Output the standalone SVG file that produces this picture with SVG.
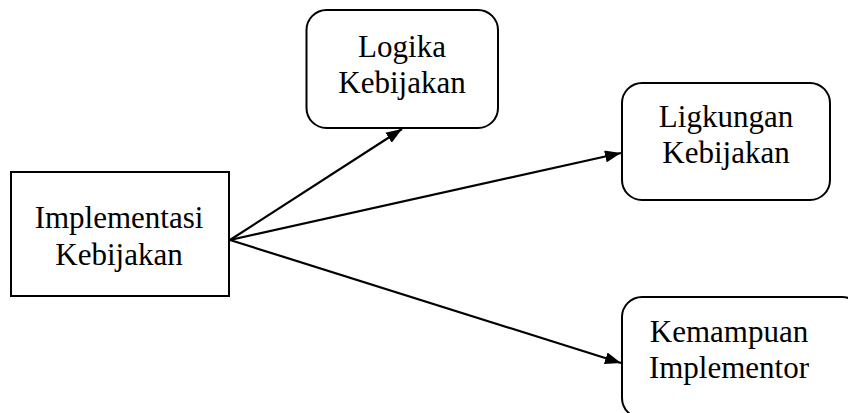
<svg xmlns="http://www.w3.org/2000/svg" width="848" height="413" viewBox="0 0 848 413">
<style>
.box{fill:#fff;stroke:#000;stroke-width:2}
.t{font-family:"Liberation Serif","Times New Roman",serif;font-size:31px;fill:#000;text-anchor:middle}
.c{stroke:#000;stroke-width:2.2;fill:none;marker-end:url(#ah)}
</style>
<defs>
<marker id="ah" viewBox="0 0 16 12" refX="16" refY="6" markerWidth="16" markerHeight="12" markerUnits="userSpaceOnUse" orient="auto">
<path d="M0,0 L16,6 L0,12 z" fill="#000"/>
</marker>
</defs>
<rect width="848" height="413" fill="#fff"/>
<g id="connectors">
<line class="c" x1="230" y1="240" x2="402" y2="129"/>
<line class="c" x1="230" y1="240" x2="621" y2="153"/>
<line class="c" x1="230" y1="240" x2="621" y2="363"/>
</g>
<g id="implementasi">
<rect class="box" x="11" y="172" width="218" height="124"/>
<text class="t" x="119" y="228">Implementasi</text>
<text class="t" x="119" y="265">Kebijakan</text>
</g>
<g id="logika">
<rect class="box" x="306.5" y="10" width="191.5" height="118" rx="20"/>
<text class="t" x="402" y="57">Logika</text>
<text class="t" x="402" y="93">Kebijakan</text>
</g>
<g id="lingkungan">
<rect class="box" x="622" y="83" width="208" height="117" rx="20"/>
<text class="t" x="726" y="127">Ligkungan</text>
<text class="t" x="726" y="163">Kebijakan</text>
</g>
<g id="kemampuan">
<rect class="box" x="622" y="297" width="240" height="121" rx="20"/>
<text class="t" x="729" y="342">Kemampuan</text>
<text class="t" x="729" y="378">Implementor</text>
</g>
</svg>
